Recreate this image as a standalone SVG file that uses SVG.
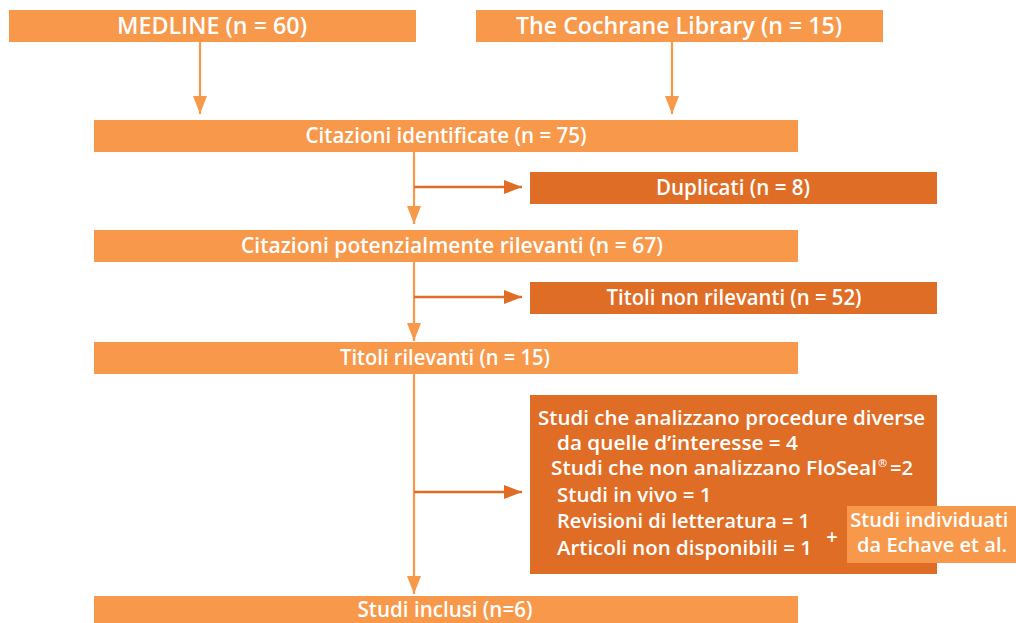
<svg xmlns="http://www.w3.org/2000/svg" width="1016" height="623" viewBox="0 0 1016 623">
<defs>
<style>
.lt{fill:#F7984A}
.dk{fill:#E06D26}
.t{font-family:"Open Sans","Liberation Sans",sans-serif;font-weight:600;fill:#FFFFFF}
.c{text-anchor:middle}
.vl{stroke:#F7984A;stroke-width:2.2;fill:none}
.hl{stroke:#E06D26;stroke-width:2.6;fill:none}
</style>
<marker id="aL" markerUnits="userSpaceOnUse" markerWidth="18" markerHeight="14" viewBox="0 0 18 14" refX="18" refY="7" orient="auto"><path d="M0,0 L18,7 L0,14 z" fill="#F7984A"/></marker>
<marker id="aD" markerUnits="userSpaceOnUse" markerWidth="18" markerHeight="14" viewBox="0 0 18 14" refX="18" refY="7" orient="auto"><path d="M0,0 L18,7 L0,14 z" fill="#E06D26"/></marker>
</defs>
<rect width="1016" height="623" fill="#FFFFFF"/>
<g id="connectors">
<path class="vl" d="M200,42 V114" marker-end="url(#aL)"/>
<path class="vl" d="M672,42 V114" marker-end="url(#aL)"/>
<path class="vl" d="M414,152 V224" marker-end="url(#aL)"/>
<path class="hl" d="M414,187 H522" marker-end="url(#aD)"/>
<path class="vl" d="M414,262 V341" marker-end="url(#aL)"/>
<path class="hl" d="M414,297 H522" marker-end="url(#aD)"/>
<path class="vl" d="M414,374 V594" marker-end="url(#aL)"/>
<path class="hl" d="M414,492 H522" marker-end="url(#aD)"/>
</g>
<g id="medline">
<rect class="lt" x="9" y="10" width="407" height="32"/>
<text class="t c" x="212" y="34" font-size="24" textLength="190" lengthAdjust="spacingAndGlyphs">MEDLINE (n = 60)</text>
</g>
<g id="cochrane">
<rect class="lt" x="476" y="10" width="407" height="32"/>
<text class="t c" x="679" y="34" font-size="24" textLength="326" lengthAdjust="spacingAndGlyphs">The Cochrane Library (n = 15)</text>
</g>
<g id="citazioni">
<rect class="lt" x="94" y="120" width="704" height="32"/>
<text class="t c" x="446" y="143" font-size="21" textLength="281" lengthAdjust="spacingAndGlyphs">Citazioni identificate (n = 75)</text>
</g>
<g id="duplicati">
<rect class="dk" x="530" y="172" width="407" height="32"/>
<text class="t c" x="733" y="195" font-size="21" textLength="154" lengthAdjust="spacingAndGlyphs">Duplicati (n = 8)</text>
</g>
<g id="potenziali">
<rect class="lt" x="94" y="230" width="704" height="32"/>
<text class="t c" x="452" y="253" font-size="21" textLength="422" lengthAdjust="spacingAndGlyphs">Citazioni potenzialmente rilevanti (n = 67)</text>
</g>
<g id="nonrilevanti">
<rect class="dk" x="530" y="282" width="407" height="32"/>
<text class="t c" x="734" y="305" font-size="21" textLength="255" lengthAdjust="spacingAndGlyphs">Titoli non rilevanti (n = 52)</text>
</g>
<g id="rilevanti">
<rect class="lt" x="94" y="342" width="704" height="32"/>
<text class="t c" x="445" y="365" font-size="21" textLength="210" lengthAdjust="spacingAndGlyphs">Titoli rilevanti (n = 15)</text>
</g>
<g id="esclusi">
<rect class="dk" x="530" y="395" width="407" height="179"/>
<text class="t" font-size="20.5" x="538" y="425" textLength="387" lengthAdjust="spacingAndGlyphs">Studi che analizzano procedure diverse</text>
<text class="t" font-size="20.5" x="557" y="450" textLength="241" lengthAdjust="spacingAndGlyphs">da quelle d’interesse = 4</text>
<text class="t" font-size="20.5" x="551" y="475" textLength="326" lengthAdjust="spacingAndGlyphs">Studi che non analizzano FloSeal</text>
<text class="t" font-size="11" x="878" y="467">®</text>
<text class="t" font-size="20.5" x="890" y="475" textLength="23" lengthAdjust="spacingAndGlyphs">=2</text>
<text class="t" font-size="20.5" x="557" y="502">Studi in vivo = 1</text>
<text class="t" font-size="20.5" x="557" y="528" textLength="253" lengthAdjust="spacingAndGlyphs">Revisioni di letteratura = 1</text>
<text class="t" font-size="20.5" x="557" y="555" textLength="255" lengthAdjust="spacingAndGlyphs">Articoli non disponibili = 1</text>
<text class="t c" x="832" y="544" font-size="20">+</text>
</g>
<g id="echave">
<rect class="lt" x="847" y="506" width="169" height="57"/>
<text class="t c" font-size="20.5">
<tspan x="932" y="527" textLength="158" lengthAdjust="spacingAndGlyphs">Studi individuati</tspan>
<tspan x="932" y="552" textLength="150" lengthAdjust="spacingAndGlyphs">da Echave et al.</tspan>
</text>
</g>
<g id="inclusi">
<rect class="lt" x="94" y="596" width="704" height="32"/>
<text class="t c" x="445" y="617" font-size="21" textLength="175" lengthAdjust="spacingAndGlyphs">Studi inclusi (n=6)</text>
</g>
</svg>
